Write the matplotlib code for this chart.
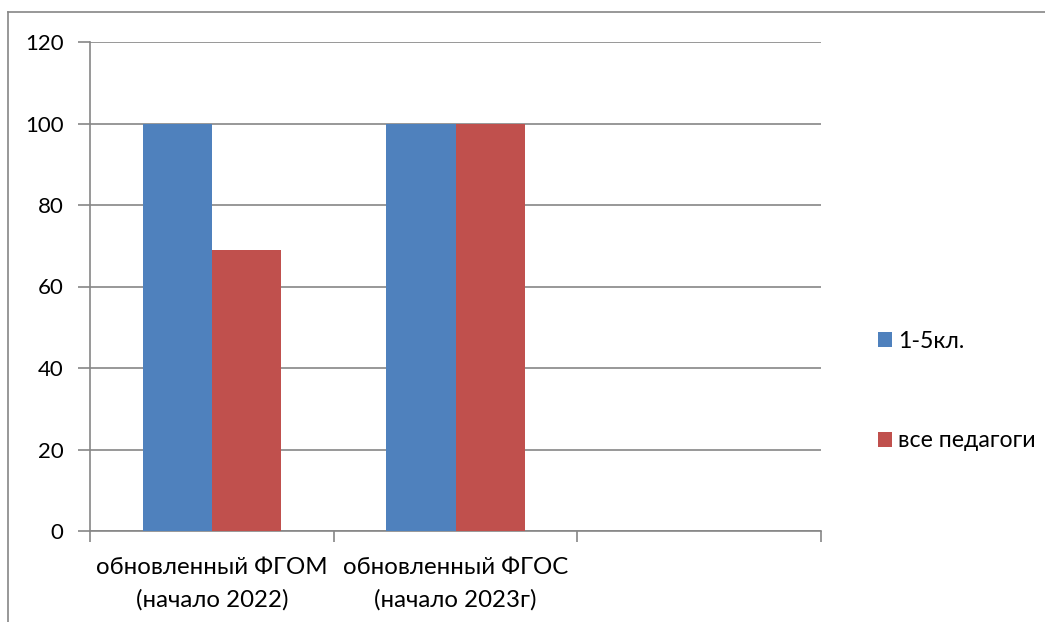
import numpy as np
import matplotlib
matplotlib.use("Agg")
import matplotlib.pyplot as plt
from matplotlib.lines import Line2D

# Data
categories = ["обновленный ФГОМ\n(начало 2022)", "обновленный ФГОС\n(начало 2023г)", ""]
series_names = ["1-5кл.", "все педагоги"]
grade_1_5 = [100, 100, np.nan]
all_teachers = [69, 100, np.nan]
y_ticks = [0, 20, 40, 60, 80, 100, 120]

plt.rcParams['font.family'] = ['Lato', 'DejaVu Sans']

fig = plt.figure(figsize=(10.45, 6.22), dpi=100)
ax = fig.add_axes([90 / 1045, 1 - 531 / 622, 731 / 1045, 489 / 622])

grid_col = "#868686"
x = np.arange(len(categories)) + 0.5
w = 0.284
ax.bar(x - w / 2, grade_1_5, w, color="#4F81BD", label=series_names[0], zorder=3)
ax.bar(x + w / 2, all_teachers, w, color="#C0504D", label=series_names[1], zorder=3)

ax.set_xlim(0, len(categories))
ax.set_ylim(0, 120)
ax.set_yticks(y_ticks)
ax.yaxis.grid(True, color=grid_col, linewidth=1.2, zorder=0)
ax.tick_params(axis='y', length=9, width=1.2, color=grid_col, labelsize=16, pad=10)

# category boundaries get tick marks, labels sit in between
ax.set_xticks(np.arange(len(categories) + 1))
ax.set_xticklabels([])
ax.set_xticks(x, minor=True)
ax.set_xticklabels(categories, minor=True, fontsize=17.3, linespacing=1.6)
ax.tick_params(axis='x', which='major', length=8, width=1.2, color=grid_col)
ax.tick_params(axis='x', which='minor', length=0, pad=19)

for s in ['top', 'right']:
    ax.spines[s].set_visible(False)
for s in ['left', 'bottom']:
    ax.spines[s].set_color(grid_col)
    ax.spines[s].set_linewidth(1.2)

ax.legend(loc='center left', bbox_to_anchor=(866 / 1045, 1 - 391 / 622),
          bbox_transform=fig.transFigure, frameon=False, fontsize=16.7,
          handlelength=0.6, handleheight=0.6, handletextpad=0.3,
          labelspacing=3.4, borderpad=0)

# outer chart frame (cut off at right and bottom)
fx = 8 / 1045
fy = 1 - 12 / 622
fig.add_artist(Line2D([fx, 1.0], [fy, fy], color=grid_col, lw=1.2, transform=fig.transFigure))
fig.add_artist(Line2D([fx, fx], [0, fy], color=grid_col, lw=1.2, transform=fig.transFigure))

fig.savefig("out.png", dpi=100)
